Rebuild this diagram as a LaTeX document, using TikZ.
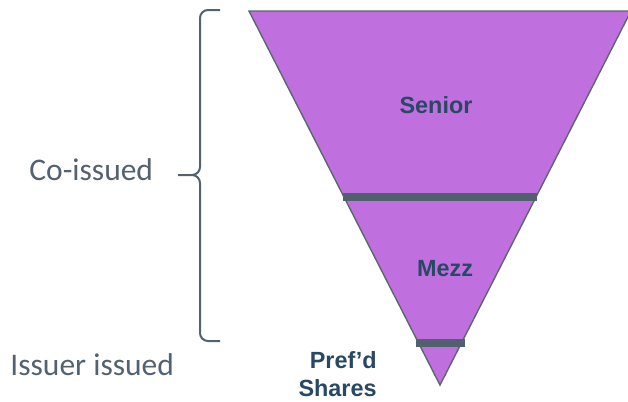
\documentclass[tikz,border=0pt]{standalone}
\usepackage{fontspec}
\setmainfont{Liberation Sans}
\newfontfamily\calibri{Carlito}
\definecolor{TrancheFill}{RGB}{191,112,222}
\definecolor{EdgeGray}{RGB}{92,102,112}
\definecolor{BarSlate}{RGB}{80,96,110}
\definecolor{LabelNavy}{RGB}{40,72,100}
\definecolor{SideGray}{RGB}{82,98,112}

\begin{document}
\begin{tikzpicture}[x=0.5pt, y=-0.5pt,
      tranche/.style={font=\bfseries\fontsize{11.7}{14}\selectfont, text=LabelNavy, inner sep=0pt},
      side/.style={font=\calibri\fontsize{15.75}{19}\selectfont, text=SideGray, inner sep=0pt},
      divider/.style={draw=BarSlate, line width=4pt},
      bracket/.style={draw=SideGray, line width=1pt, rounded corners=4pt}
  ]
    \useasboundingbox (0,0) rectangle (628,402);
    \clip (0,0) rectangle (628,402);
    % inverted pyramid and the two dividers
    \filldraw[fill=TrancheFill, draw=EdgeGray, line width=0.7pt]
      (249,11) -- (631,11) -- (440,385) -- cycle;
    \draw[divider] (343,197) -- (537,197);
    \draw[divider] (416,343) -- (465,343);
    \node[tranche, anchor=base] (senior) at (436,113) {Senior};
    \node[tranche, anchor=base] (mezz) at (445,276) {Mezz};
    \node[tranche, anchor=east, align=right] (prefd) at (377,374) {Pref'd\\Shares};
    % labels on the left
    \node[side, anchor=base west] (coissued) at (29,180) {Co-issued};
    \node[side, anchor=base west] (issuer) at (10,375) {Issuer issued};
    \draw[bracket] (220,10) -- (200,10) -- (200,175) -- (178,175)
                   (220,341) -- (200,341) -- (200,175) -- (178,175);
  \end{tikzpicture}
\end{document}
